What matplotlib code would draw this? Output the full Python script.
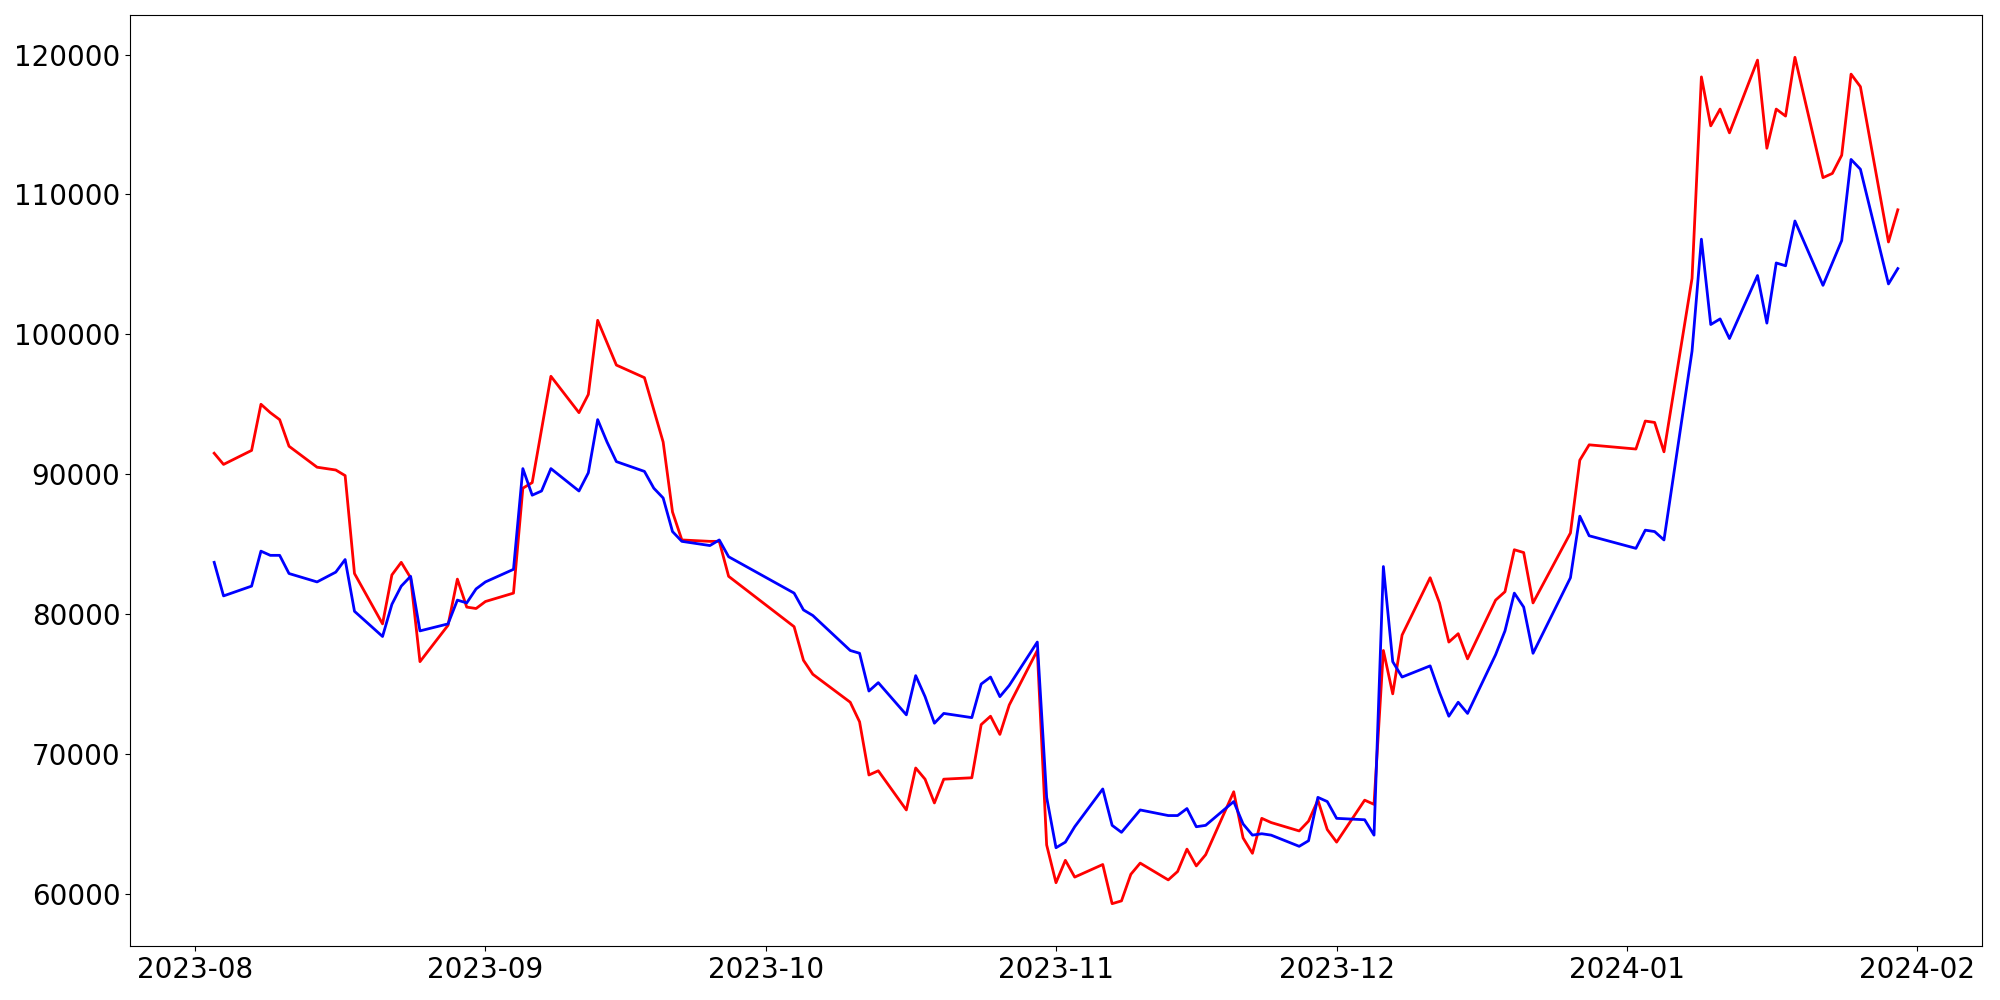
import pandas as pd
import matplotlib
matplotlib.use('Agg')
import matplotlib.pyplot as plt
import matplotlib.dates as mdates

# trading days (KRX calendar)
dates = [
    '2023-08-03', '2023-08-04', '2023-08-07', '2023-08-08', '2023-08-09', '2023-08-10', '2023-08-11',
    '2023-08-14', '2023-08-16', '2023-08-17', '2023-08-18', '2023-08-21', '2023-08-22', '2023-08-23',
    '2023-08-24', '2023-08-25', '2023-08-28', '2023-08-29', '2023-08-30', '2023-08-31', '2023-09-01',
    '2023-09-04', '2023-09-05', '2023-09-06', '2023-09-07', '2023-09-08', '2023-09-11', '2023-09-12',
    '2023-09-13', '2023-09-14', '2023-09-15', '2023-09-18', '2023-09-19', '2023-09-20', '2023-09-21',
    '2023-09-22', '2023-09-25', '2023-09-26', '2023-09-27', '2023-10-04', '2023-10-05', '2023-10-06',
    '2023-10-10', '2023-10-11', '2023-10-12', '2023-10-13', '2023-10-16', '2023-10-17', '2023-10-18',
    '2023-10-19', '2023-10-20', '2023-10-23', '2023-10-24', '2023-10-25', '2023-10-26', '2023-10-27',
    '2023-10-30', '2023-10-31', '2023-11-01', '2023-11-02', '2023-11-03', '2023-11-06', '2023-11-07',
    '2023-11-08', '2023-11-09', '2023-11-10', '2023-11-13', '2023-11-14', '2023-11-15', '2023-11-16',
    '2023-11-17', '2023-11-20', '2023-11-21', '2023-11-22', '2023-11-23', '2023-11-24', '2023-11-27',
    '2023-11-28', '2023-11-29', '2023-11-30', '2023-12-01', '2023-12-04', '2023-12-05', '2023-12-06',
    '2023-12-07', '2023-12-08', '2023-12-11', '2023-12-12', '2023-12-13', '2023-12-14', '2023-12-15',
    '2023-12-18', '2023-12-19', '2023-12-20', '2023-12-21', '2023-12-22', '2023-12-26', '2023-12-27',
    '2023-12-28', '2024-01-02', '2024-01-03', '2024-01-04', '2024-01-05', '2024-01-08', '2024-01-09',
    '2024-01-10', '2024-01-11', '2024-01-12', '2024-01-15', '2024-01-16', '2024-01-17', '2024-01-18',
    '2024-01-19', '2024-01-22', '2024-01-23', '2024-01-24', '2024-01-25', '2024-01-26', '2024-01-29',
    '2024-01-30',
]

red_values = [
    91500, 90700, 91700, 95000, 94400, 93900, 92000,
    90500, 90300, 89900, 82900, 79300, 82800, 83700,
    82600, 76600, 79200, 82500, 80500, 80400, 80900,
    81500, 89000, 89400, 93200, 97000, 94400, 95700,
    101000, 99400, 97800, 96900, 94600, 92300, 87300,
    85300, 85200, 85200, 82700, 79100, 76700, 75700,
    73700, 72300, 68500, 68800, 66000, 69000, 68200,
    66500, 68200, 68300, 72100, 72700, 71400, 73500,
    77400, 63500, 60800, 62400, 61200, 62100, 59300,
    59500, 61400, 62200, 61000, 61600, 63200, 62000,
    62800, 67300, 64000, 62900, 65400, 65100, 64500,
    65200, 66700, 64600, 63700, 66700, 66400, 77400,
    74300, 78500, 82600, 80800, 78000, 78600, 76800,
    81000, 81600, 84600, 84400, 80800, 85800, 91000,
    92100, 91800, 93800, 93700, 91600, 104000, 118400,
    114900, 116100, 114400, 119600, 113300, 116100, 115600,
    119800, 111200, 111500, 112800, 118600, 117700, 106600,
    108900,
]

blue_values = [
    83700, 81300, 82000, 84500, 84200, 84200, 82900,
    82300, 83000, 83900, 80200, 78400, 80700, 82000,
    82700, 78800, 79300, 81000, 80800, 81800, 82300,
    83200, 90400, 88500, 88800, 90400, 88800, 90100,
    93900, 92300, 90900, 90200, 89000, 88300, 85900,
    85200, 84900, 85300, 84100, 81500, 80300, 79900,
    77400, 77200, 74500, 75100, 72800, 75600, 74100,
    72200, 72900, 72600, 75000, 75500, 74100, 74900,
    78000, 66900, 63300, 63700, 64800, 67500, 64900,
    64400, 65200, 66000, 65600, 65600, 66100, 64800,
    64900, 66600, 65000, 64200, 64300, 64200, 63400,
    63800, 66900, 66600, 65400, 65300, 64200, 83400,
    76600, 75500, 76300, 74400, 72700, 73700, 72900,
    77100, 78800, 81500, 80500, 77200, 82600, 87000,
    85600, 84700, 86000, 85900, 85300, 98800, 106800,
    100700, 101100, 99700, 104200, 100800, 105100, 104900,
    108100, 103500, 105100, 106700, 112500, 111800, 103600,
    104700,
]

x = pd.to_datetime(dates)

fig, ax = plt.subplots(figsize=(20, 10), dpi=100)
ax.plot(x, red_values, color='red', linewidth=2)
ax.plot(x, blue_values, color='blue', linewidth=2)

ax.xaxis.set_major_locator(mdates.MonthLocator())
ax.xaxis.set_major_formatter(mdates.DateFormatter('%Y-%m'))
ax.tick_params(axis='both', labelsize=20)

fig.subplots_adjust(left=0.065, right=0.991, bottom=0.054, top=0.985)
fig.savefig('out.png')
